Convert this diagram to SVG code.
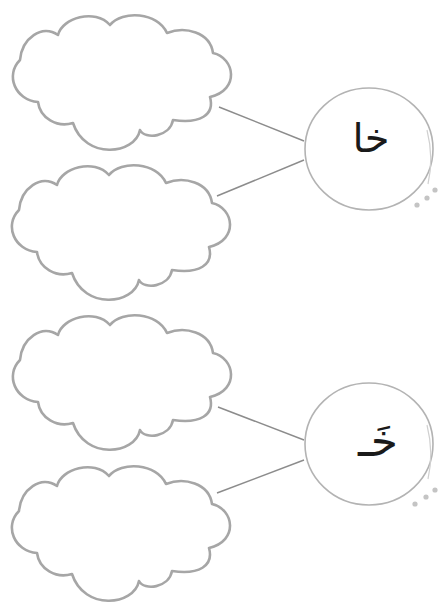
<svg xmlns="http://www.w3.org/2000/svg" width="444" height="604" viewBox="0 0 444 604">
<defs>
<style>
.cloud{fill:#fff;stroke:#a6a6a6;stroke-width:2.6;stroke-linejoin:round}
.ring{fill:#fff;stroke:#b3b3b3;stroke-width:1.6}
.inner{fill:none;stroke:#d0d0d0;stroke-width:1.2}
.dot{fill:#c4c4c4}
.conn{stroke:#8c8c8c;stroke-width:1.5;fill:none}
.ar{font-family:"DejaVu Sans","Noto Sans",sans-serif;fill:#1a1a1a;text-anchor:middle}
</style>
<path id="cl" d="M20,60 C22,38 42,24 58,35 C62,18 95,8 110,25 C122,10 158,12 167,33 C185,26 210,32 213,53 C235,58 240,90 210,97 C215,115 200,124 173,120 C170,137 145,140 140,130 C135,155 85,160 73,123 C57,128 40,118 38,102 C15,100 5,75 20,60 Z"/>
</defs>
<rect width="444" height="604" fill="#fff"/>
<g id="connectors">
<line class="conn" x1="219" y1="107" x2="304" y2="141"/>
<line class="conn" x1="217" y1="196" x2="304" y2="160"/>
<line class="conn" x1="218" y1="407" x2="304" y2="440"/>
<line class="conn" x1="217" y1="493" x2="304" y2="460"/>
</g>
<g id="cloud1"><use href="#cl" class="cloud"/></g>
<g id="cloud2"><use href="#cl" class="cloud" transform="translate(-1,150)"/></g>
<g id="cloud3"><use href="#cl" class="cloud" transform="translate(0,300)"/></g>
<g id="cloud4"><use href="#cl" class="cloud" transform="translate(-1,451)"/></g>
<g id="circle1">
<ellipse class="ring" cx="369" cy="149" rx="64" ry="61"/>
<path class="inner" d="M427,130 Q434,158 428,184"/>
<circle class="dot" cx="435" cy="190" r="2.6"/>
<circle class="dot" cx="427" cy="198" r="2.6"/>
<circle class="dot" cx="417" cy="205" r="2.6"/>
<text class="ar" x="371" y="152" font-size="40">خا</text>
</g>
<g id="circle2">
<ellipse class="ring" cx="369" cy="444" rx="64" ry="61"/>
<path class="inner" d="M427,425 Q434,453 428,479"/>
<circle class="dot" cx="435" cy="490" r="2.6"/>
<circle class="dot" cx="426" cy="497" r="2.6"/>
<circle class="dot" cx="415" cy="504" r="2.6"/>
<text class="ar" x="378" y="456" font-size="44">خَـ</text>
</g>
</svg>
